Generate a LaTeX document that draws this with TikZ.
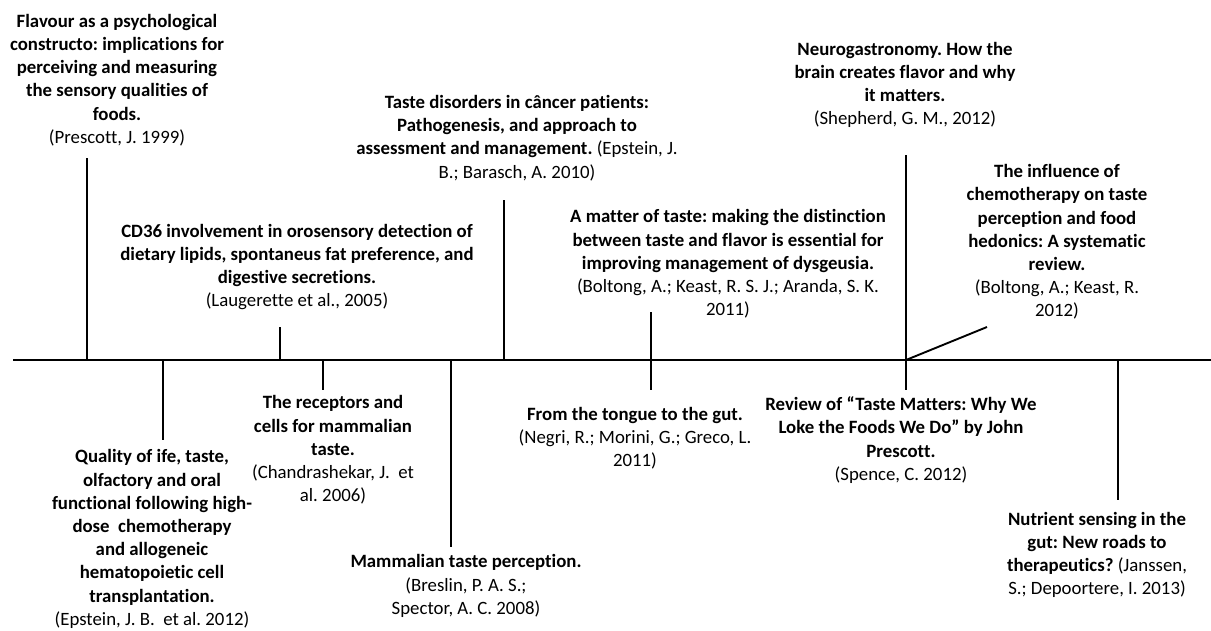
\documentclass[tikz,border=0pt]{standalone}
\usepackage{fontspec}
\setmainfont{Carlito}[Ligatures=NoCommon]
\frenchspacing
\begin{document}
\begin{tikzpicture}[x=1pt,y=-1pt,
  lbl/.style={inner sep=0pt,align=center,font=\fontsize{18.8}{23.2}\selectfont},
  tl/.style={line width=1.9pt,black}]
\useasboundingbox (0,0) rectangle (1211,630);
% timeline
\coordinate (L) at (13,360);
\coordinate (R) at (1211,360);
\draw[tl] (L) -- (R);
% labels
\node[lbl] (n1) at (117,80) {\textbf{Flavour as a psychological}\\\textbf{constructo: implications for}\\\textbf{perceiving and measuring}\\\textbf{the sensory qualities of}\\\textbf{foods.}\\(Prescott, J. 1999)};
\node[lbl] (n2) at (152,539) {\textbf{Quality of ife, taste,}\\\textbf{olfactory and oral}\\\textbf{functional following high-}\\\textbf{dose\ \ chemotherapy}\\\textbf{and allogeneic}\\\textbf{hematopoietic cell}\\\textbf{transplantation.}\\(Epstein, J. B.\ \ et al. 2012)};
\node[lbl] (n3) at (297,267) {\textbf{CD36 involvement in orosensory detection of}\\\textbf{dietary lipids, spontaneus fat preference, and}\\\textbf{digestive secretions.}\\(Laugerette et al., 2005)};
\node[lbl] (n4) at (333,450) {\textbf{The receptors and}\\\textbf{cells for mammalian}\\\textbf{taste.}\\(Chandrashekar, J.\ \ et\\al. 2006)};
\node[lbl] (n5) at (517,138) {\textbf{Taste disorders in câncer patients:}\\\textbf{Pathogenesis, and approach to}\\\textbf{assessment and management.} (Epstein, J.\\B.; Barasch, A. 2010)};
\node[lbl] (n6) at (466,586) {\textbf{Mammalian taste perception.}\\(Breslin, P. A. S.;\\Spector, A. C. 2008)};
\node[lbl] (n7) at (728,264) {\textbf{A matter of taste: making the distinction}\\\textbf{between taste and flavor is essential for}\\\textbf{improving management of dysgeusia.}\\(Boltong, A.; Keast, R. S. J.; Aranda, S. K.\\2011)};
\node[lbl] (n8) at (635,438) {\textbf{From the tongue to the gut.}\\(Negri, R.; Morini, G.; Greco, L.\\2011)};
\node[lbl] (n9) at (905,85) {\textbf{Neurogastronomy. How the}\\\textbf{brain creates flavor and why}\\\textbf{it matters.}\\(Shepherd, G. M., 2012)};
\node[lbl] (n10) at (1057,242) {\textbf{The influence of}\\\textbf{chemotherapy on taste}\\\textbf{perception and food}\\\textbf{hedonics: A systematic}\\\textbf{review.}\\(Boltong, A.; Keast, R.\\2012)};
\node[lbl] (n11) at (901,440) {\textbf{Review of “Taste Matters: Why We}\\\textbf{Loke the Foods We Do” by John}\\\textbf{Prescott.}\\(Spence, C. 2012)};
\node[lbl] (n12) at (1097,555) {\textbf{Nutrient sensing in the}\\\textbf{gut: New roads to}\\\textbf{therapeutics?} (Janssen,\\S.; Depoortere, I. 2013)};
% tick coordinates
\coordinate (t1) at (87,360);   \coordinate (e1) at (87,158);
\coordinate (t2) at (280,360);  \coordinate (e2) at (280,327);
\coordinate (t3) at (504,360);  \coordinate (e3) at (504,200);
\coordinate (e4a) at (651,312); \coordinate (e4b) at (651,390);
\coordinate (e5a) at (906,155); \coordinate (e5b) at (906,390);
\coordinate (t5) at (906,360);  \coordinate (e5c) at (987,327);
\coordinate (t6) at (1118,360); \coordinate (e6) at (1118,500);
\coordinate (ta) at (163,360);  \coordinate (ea) at (163,440);
\coordinate (tb) at (323,360);  \coordinate (eb) at (323,390);
\coordinate (tc) at (451,360);  \coordinate (ec) at (451,547);
\draw[tl] (t1) -- (e1);
\draw[tl] (t2) -- (e2);
\draw[tl] (t3) -- (e3);
\draw[tl] (e4a) -- (e4b);
\draw[tl] (e5a) -- (e5b);
\draw[tl] (t5) -- (e5c);
\draw[tl] (t6) -- (e6);
\draw[tl] (ta) -- (ea);
\draw[tl] (tb) -- (eb);
\draw[tl] (tc) -- (ec);
\end{tikzpicture}
\end{document}
